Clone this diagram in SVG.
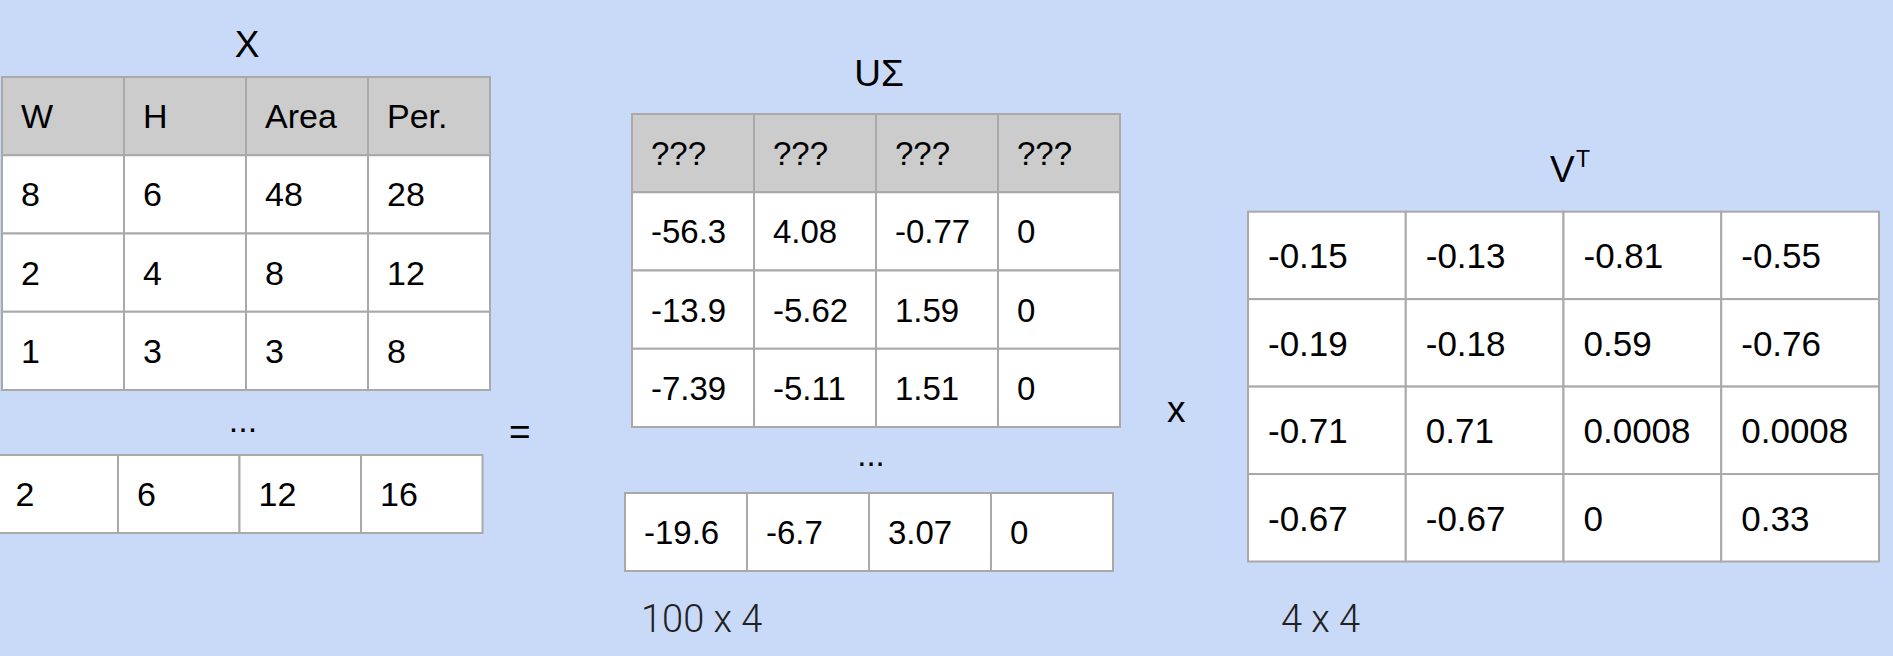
<svg xmlns="http://www.w3.org/2000/svg" width="1893" height="656" viewBox="0 0 1893 656">
<style>
.bg{fill:#c9daf8}
.hd{fill:#cccccc;stroke:#a9a9a9;stroke-width:2}
.cl{fill:#ffffff;stroke:#a9a9a9;stroke-width:2}
text{font-family:"Liberation Sans",Arial,sans-serif;fill:#000}
.tx{font-size:34px}
.tu{font-size:33px}
.tv{font-size:35px}
.lb{font-size:37px}
.dim{font-family:Roboto,"Liberation Sans",sans-serif;font-weight:300;font-size:38px;fill:#222}
</style>
<rect class="bg" x="0" y="0" width="1893" height="656"/>
<g id="connectors"/>
<g id="matrix-X">
<text class="lb" x="247" y="57" text-anchor="middle">X</text>
<rect class="hd" x="2" y="77" width="122" height="78.25"/>
<rect class="hd" x="124" y="77" width="122" height="78.25"/>
<rect class="hd" x="246" y="77" width="122" height="78.25"/>
<rect class="hd" x="368" y="77" width="122" height="78.25"/>
<rect class="cl" x="2" y="155.25" width="122" height="78.25"/>
<rect class="cl" x="124" y="155.25" width="122" height="78.25"/>
<rect class="cl" x="246" y="155.25" width="122" height="78.25"/>
<rect class="cl" x="368" y="155.25" width="122" height="78.25"/>
<rect class="cl" x="2" y="233.5" width="122" height="78.25"/>
<rect class="cl" x="124" y="233.5" width="122" height="78.25"/>
<rect class="cl" x="246" y="233.5" width="122" height="78.25"/>
<rect class="cl" x="368" y="233.5" width="122" height="78.25"/>
<rect class="cl" x="2" y="311.75" width="122" height="78.25"/>
<rect class="cl" x="124" y="311.75" width="122" height="78.25"/>
<rect class="cl" x="246" y="311.75" width="122" height="78.25"/>
<rect class="cl" x="368" y="311.75" width="122" height="78.25"/>
<g class="tx">
<text x="21" y="128">W</text><text x="143" y="128">H</text><text x="265" y="128">Area</text><text x="387" y="128">Per.</text>
<text x="21" y="206.25">8</text><text x="143" y="206.25">6</text><text x="265" y="206.25">48</text><text x="387" y="206.25">28</text>
<text x="21" y="284.5">2</text><text x="143" y="284.5">4</text><text x="265" y="284.5">8</text><text x="387" y="284.5">12</text>
<text x="21" y="362.75">1</text><text x="143" y="362.75">3</text><text x="265" y="362.75">3</text><text x="387" y="362.75">8</text>
<text x="243" y="432" text-anchor="middle">...</text>
</g>
<rect class="cl" x="-3.5" y="455" width="121.5" height="78"/>
<rect class="cl" x="118" y="455" width="121.5" height="78"/>
<rect class="cl" x="239.5" y="455" width="121.5" height="78"/>
<rect class="cl" x="361" y="455" width="121.5" height="78"/>
<g class="tx">
<text x="15.5" y="506">2</text><text x="137" y="506">6</text><text x="258.5" y="506">12</text><text x="380" y="506">16</text>
</g>
</g>
<g id="equals">
<text class="lb" x="509" y="444">=</text>
</g>
<g id="matrix-USigma">
<text class="lb" x="879" y="86" text-anchor="middle">UΣ</text>
<rect class="hd" x="632" y="114" width="122" height="78.25"/>
<rect class="hd" x="754" y="114" width="122" height="78.25"/>
<rect class="hd" x="876" y="114" width="122" height="78.25"/>
<rect class="hd" x="998" y="114" width="122" height="78.25"/>
<rect class="cl" x="632" y="192.25" width="122" height="78.25"/>
<rect class="cl" x="754" y="192.25" width="122" height="78.25"/>
<rect class="cl" x="876" y="192.25" width="122" height="78.25"/>
<rect class="cl" x="998" y="192.25" width="122" height="78.25"/>
<rect class="cl" x="632" y="270.5" width="122" height="78.25"/>
<rect class="cl" x="754" y="270.5" width="122" height="78.25"/>
<rect class="cl" x="876" y="270.5" width="122" height="78.25"/>
<rect class="cl" x="998" y="270.5" width="122" height="78.25"/>
<rect class="cl" x="632" y="348.75" width="122" height="78.25"/>
<rect class="cl" x="754" y="348.75" width="122" height="78.25"/>
<rect class="cl" x="876" y="348.75" width="122" height="78.25"/>
<rect class="cl" x="998" y="348.75" width="122" height="78.25"/>
<g class="tu">
<text x="651" y="165">???</text><text x="773" y="165">???</text><text x="895" y="165">???</text><text x="1017" y="165">???</text>
<text x="651" y="243.25">-56.3</text><text x="773" y="243.25">4.08</text><text x="895" y="243.25">-0.77</text><text x="1017" y="243.25">0</text>
<text x="651" y="321.5">-13.9</text><text x="773" y="321.5">-5.62</text><text x="895" y="321.5">1.59</text><text x="1017" y="321.5">0</text>
<text x="651" y="399.75">-7.39</text><text x="773" y="399.75">-5.11</text><text x="895" y="399.75">1.51</text><text x="1017" y="399.75">0</text>
<text x="871" y="466" text-anchor="middle">...</text>
</g>
<rect class="cl" x="625" y="493" width="122" height="78"/>
<rect class="cl" x="747" y="493" width="122" height="78"/>
<rect class="cl" x="869" y="493" width="122" height="78"/>
<rect class="cl" x="991" y="493" width="122" height="78"/>
<g class="tu">
<text x="644" y="544">-19.6</text><text x="766" y="544">-6.7</text><text x="888" y="544">3.07</text><text x="1010" y="544">0</text>
</g>
<text class="dim" x="641" y="632">100 x 4</text>
</g>
<g id="times">
<text class="lb" x="1167" y="422">x</text>
</g>
<g id="matrix-VT">
<text class="lb" x="1550" y="182">V</text>
<text x="1576" y="167" style="font-size:23px">T</text>
<rect class="cl" x="1248" y="211.7" width="157.75" height="87.45"/>
<rect class="cl" x="1405.75" y="211.7" width="157.75" height="87.45"/>
<rect class="cl" x="1563.5" y="211.7" width="157.75" height="87.45"/>
<rect class="cl" x="1721.25" y="211.7" width="157.75" height="87.45"/>
<rect class="cl" x="1248" y="299.15" width="157.75" height="87.45"/>
<rect class="cl" x="1405.75" y="299.15" width="157.75" height="87.45"/>
<rect class="cl" x="1563.5" y="299.15" width="157.75" height="87.45"/>
<rect class="cl" x="1721.25" y="299.15" width="157.75" height="87.45"/>
<rect class="cl" x="1248" y="386.6" width="157.75" height="87.45"/>
<rect class="cl" x="1405.75" y="386.6" width="157.75" height="87.45"/>
<rect class="cl" x="1563.5" y="386.6" width="157.75" height="87.45"/>
<rect class="cl" x="1721.25" y="386.6" width="157.75" height="87.45"/>
<rect class="cl" x="1248" y="474.05" width="157.75" height="87.45"/>
<rect class="cl" x="1405.75" y="474.05" width="157.75" height="87.45"/>
<rect class="cl" x="1563.5" y="474.05" width="157.75" height="87.45"/>
<rect class="cl" x="1721.25" y="474.05" width="157.75" height="87.45"/>
<g class="tv">
<text x="1268" y="268.3">-0.15</text><text x="1425.75" y="268.3">-0.13</text><text x="1583.5" y="268.3">-0.81</text><text x="1741.25" y="268.3">-0.55</text>
<text x="1268" y="355.75">-0.19</text><text x="1425.75" y="355.75">-0.18</text><text x="1583.5" y="355.75">0.59</text><text x="1741.25" y="355.75">-0.76</text>
<text x="1268" y="443.2">-0.71</text><text x="1425.75" y="443.2">0.71</text><text x="1583.5" y="443.2">0.0008</text><text x="1741.25" y="443.2">0.0008</text>
<text x="1268" y="530.65">-0.67</text><text x="1425.75" y="530.65">-0.67</text><text x="1583.5" y="530.65">0</text><text x="1741.25" y="530.65">0.33</text>
</g>
<text class="dim" x="1281" y="632">4 x 4</text>
</g>
</svg>
